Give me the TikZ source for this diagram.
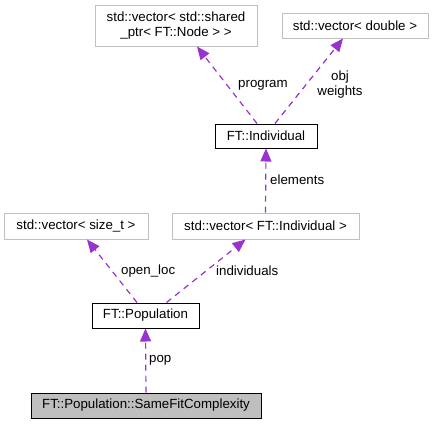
\documentclass[tikz,border=0pt]{standalone}
\usepackage{fontspec}
\setmainfont{Liberation Sans}
\usetikzlibrary{arrows.meta}
\definecolor{edgecol}{HTML}{9A32CD}
\definecolor{graybd}{HTML}{BFBFBF}
\begin{document}
\begin{tikzpicture}[x=1pt,y=-1pt,
  every node/.style={font=\fontsize{13.3}{15}\selectfont, inner sep=0pt, align=center},
  grbox/.style={draw=graybd, line width=1pt, fill=white},
  blbox/.style={draw=black, line width=1pt, fill=white},
  mainbox/.style={draw=black, line width=1pt, fill=graybd},
  dep/.style={draw=edgecol, line width=1.2pt, dash pattern=on 6pt off 5pt, -{Triangle[length=13pt,width=11pt,fill=edgecol]}},
  lbl/.style={font=\fontsize{13.3}{15}\selectfont}
]
\useasboundingbox (0,0) rectangle (434,424);
\node[grbox, minimum width=162pt, minimum height=41pt] (vsp) at (176,25.5) {std::vector< std::shared\\\_ptr< FT::Node > >};
\node[grbox, minimum width=146pt, minimum height=25pt] (vd) at (355,25.5) {std::vector< double >};
\node[blbox, minimum width=102pt, minimum height=24pt] (ind) at (266,136) {FT::Individual};
\node[grbox, minimum width=144pt, minimum height=26pt] (vst) at (76,226) {std::vector< size\_t >};
\node[grbox, minimum width=187pt, minimum height=26pt] (vind) at (265.5,226) {std::vector< FT::Individual >};
\node[blbox, minimum width=107pt, minimum height=25pt] (pop) at (145.5,315.5) {FT::Population};
\node[mainbox, minimum width=230pt, minimum height=25pt] (sfc) at (146,405.5) {FT::Population::SameFitComplexity};

\draw[dep] (sfc.north) -- (pop.south);
\draw[dep] ([xshift=-8.5pt]pop.north) -- ([xshift=11pt]vst.south);
\draw[dep] ([xshift=21pt]pop.north) -- ([xshift=-20pt]vind.south);
\draw[dep] (vind.north) -- (ind.south);
\draw[dep] ([xshift=-9pt]ind.north) -- ([xshift=21pt]vsp.south);
\draw[dep] ([xshift=9pt]ind.north) -- ([xshift=-12pt]vd.south);

\node[lbl, anchor=west] (lpop) at (149,360) {pop};
\node[lbl, anchor=west] (lopen) at (121,271) {open\_loc};
\node[lbl, anchor=west] (lindv) at (216,271) {individuals};
\node[lbl, anchor=west] (lelem) at (270,180) {elements};
\node[lbl, anchor=west] (lprog) at (238,85) {program};
\node[lbl] (lobj) at (340,85) {obj\\weights};
\end{tikzpicture}
\end{document}
